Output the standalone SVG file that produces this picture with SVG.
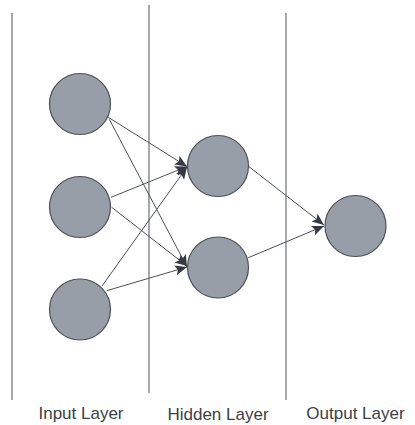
<svg xmlns="http://www.w3.org/2000/svg" width="415" height="425" viewBox="0 0 415 425">
<style>
.node{fill:#989ea7;stroke:#4b5058;stroke-width:1.2}
.sep{stroke:#6b6f75;stroke-width:1.2}
.edge{stroke:#4b5058;stroke-width:1;fill:none;marker-end:url(#arr)}
.lbl{font-family:"Liberation Sans",Arial,sans-serif;font-size:17px;fill:#3b3f46;text-anchor:middle}
</style>
<defs>
<marker id="arr" markerUnits="userSpaceOnUse" markerWidth="14" markerHeight="12" refX="12" refY="5" orient="auto">
<path d="M0,0 L12,5 L0,10 L2.5,5 z" fill="#353a42"/>
</marker>
</defs>
<rect width="415" height="425" fill="#ffffff"/>
<g id="separators">
<line class="sep" x1="12" y1="13" x2="12" y2="400"/>
<line class="sep" x1="149" y1="5" x2="149" y2="393"/>
<line class="sep" x1="286" y1="13" x2="286" y2="400"/>
</g>
<g id="connectors">
<line class="edge" x1="108.3" y1="117.3" x2="187" y2="166.5"/>
<line class="edge" x1="109.3" y1="119.3" x2="187" y2="267"/>
<line class="edge" x1="111" y1="197.3" x2="187" y2="166.5"/>
<line class="edge" x1="111.7" y1="207.3" x2="187" y2="266"/>
<line class="edge" x1="102" y1="286" x2="187" y2="167"/>
<line class="edge" x1="106.7" y1="290.7" x2="187" y2="267"/>
<line class="edge" x1="249" y1="166.7" x2="324" y2="225"/>
<line class="edge" x1="248.3" y1="257.7" x2="324" y2="226"/>
</g>
<g id="in1"><circle class="node" cx="80" cy="104" r="30.5"/></g>
<g id="in2"><circle class="node" cx="80" cy="207" r="30.5"/></g>
<g id="in3"><circle class="node" cx="80" cy="309.5" r="30.5"/></g>
<g id="hid1"><circle class="node" cx="218" cy="166" r="30.5"/></g>
<g id="hid2"><circle class="node" cx="218" cy="267.5" r="30.5"/></g>
<g id="out1"><circle class="node" cx="355.5" cy="226" r="30.5"/></g>
<g id="labels">
<text class="lbl" x="81" y="419">Input Layer</text>
<text class="lbl" x="218" y="420">Hidden Layer</text>
<text class="lbl" x="355.5" y="419">Output Layer</text>
</g>
</svg>
